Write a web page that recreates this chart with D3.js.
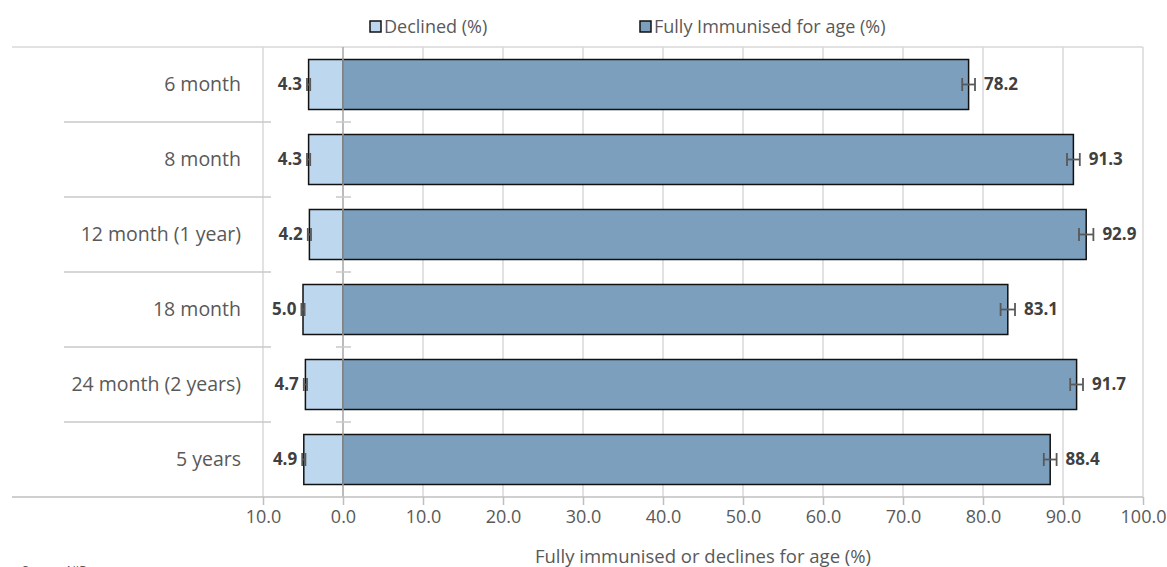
<html>
<head>
<meta charset="utf-8">
<title>Immunisation</title>
<script src="https://cdn.jsdelivr.net/npm/d3@7"></script>
<style>
  html, body { margin: 0; padding: 0; background: #fff; }
  svg { display: block; font-family: "Open Sans", "Noto Sans", sans-serif; }
</style>
</head>
<body>
<svg width="1167" height="567" id="mainsvg"></svg>
<script>
// data
const categories = ['6 month', '8 month', '12 month (1 year)', '18 month', '24 month (2 years)', '5 years'];
const declined = [4.3, 4.3, 4.2, 5.0, 4.7, 4.9];
const declinedErr = [0.2, 0.2, 0.2, 0.2, 0.2, 0.2];
const immunised = [78.2, 91.3, 92.9, 83.1, 91.7, 88.4];
const immunisedErr = [0.8, 0.8, 0.9, 0.9, 0.8, 0.8];
const xTicks = [-10, 0, 10, 20, 30, 40, 50, 60, 70, 80, 90, 100];

const svg = d3.select('svg');
const textCol = '#595959';
const gridCol = '#d9d9d9';

const x = d3.scaleLinear().domain([-10, 100]).range([263, 1143]);
const y = d3.scaleBand().domain(categories).range([47, 497]).paddingInner(1/3).paddingOuter(1/6);
const step = y.step();

// vertical gridlines
svg.append('g').selectAll('line').data(xTicks.filter(d => d !== 0)).join('line')
  .attr('x1', d => x(d)).attr('x2', d => x(d)).attr('y1', 47).attr('y2', 497)
  .attr('stroke', gridCol).attr('stroke-width', 1.5);

// top border line
svg.append('line').attr('x1', 12).attr('x2', x(100)).attr('y1', 47).attr('y2', 47)
  .attr('stroke', gridCol).attr('stroke-width', 1.5);

// category separators on the left
const bounds = d3.range(1, categories.length).map(i => y(categories[i]) - step * (1/3) / 2);
svg.append('g').selectAll('line').data(bounds).join('line')
  .attr('x1', 64).attr('x2', 271).attr('y1', d => d).attr('y2', d => d)
  .attr('stroke', '#c8c8c8').attr('stroke-width', 1.5);

// bars
const rows = categories.map((c, i) => ({c, dec: declined[i], decErr: declinedErr[i], imm: immunised[i], immErr: immunisedErr[i]}));
const bars = svg.append('g');
bars.selectAll('rect.dec').data(rows).join('rect').attr('class', 'dec')
  .attr('x', d => x(-d.dec)).attr('width', d => x(0) - x(-d.dec))
  .attr('y', d => y(d.c)).attr('height', y.bandwidth())
  .attr('fill', '#bdd7ee').attr('stroke', '#111').attr('stroke-width', 1.5);
bars.selectAll('rect.imm').data(rows).join('rect').attr('class', 'imm')
  .attr('x', x(0)).attr('width', d => x(d.imm) - x(0))
  .attr('y', d => y(d.c)).attr('height', y.bandwidth())
  .attr('fill', '#7c9fbe').attr('stroke', '#111').attr('stroke-width', 1.5);

// zero axis line with crossing ticks
svg.append('line').attr('x1', x(0)).attr('x2', x(0)).attr('y1', 47).attr('y2', 497)
  .attr('stroke', '#a6a6a6').attr('stroke-width', 1.5);
svg.append('g').selectAll('line').data(bounds).join('line')
  .attr('x1', x(0) - 7).attr('x2', x(0) + 8).attr('y1', d => d).attr('y2', d => d)
  .attr('stroke', '#c8c8c8').attr('stroke-width', 1.5);

// error bars
function errBars(lo, hi) {
  const g = svg.append('g').attr('stroke', '#595959').attr('stroke-width', 1.8);
  const cy = d => y(d.c) + y.bandwidth() / 2;
  g.append('g').selectAll('line').data(rows).join('line')
    .attr('x1', d => x(lo(d))).attr('x2', d => x(hi(d))).attr('y1', cy).attr('y2', cy);
  [lo, hi].forEach(f => {
    g.append('g').selectAll('line').data(rows).join('line')
      .attr('x1', d => x(f(d))).attr('x2', d => x(f(d)))
      .attr('y1', d => cy(d) - 6.5).attr('y2', d => cy(d) + 6.5);
  });
}
errBars(d => -d.dec - d.decErr, d => -d.dec + d.decErr);
errBars(d => d.imm - d.immErr, d => d.imm + d.immErr);

// value labels
const labels = svg.append('g').attr('font-size', 17).attr('font-weight', 700).attr('fill', '#404040');
labels.selectAll('text.dec').data(rows).join('text')
  .attr('x', d => x(-d.dec - d.decErr) - 5).attr('y', d => y(d.c) + y.bandwidth() / 2)
  .attr('dy', '0.35em').attr('text-anchor', 'end').text(d => d.dec.toFixed(1));
labels.selectAll('text.imm').data(rows).join('text')
  .attr('x', d => x(d.imm + d.immErr) + 9).attr('y', d => y(d.c) + y.bandwidth() / 2)
  .attr('dy', '0.35em').text(d => d.imm.toFixed(1));

// category labels
svg.append('g').selectAll('text').data(categories).join('text')
  .attr('x', 241).attr('y', d => y(d) + y.bandwidth() / 2).attr('dy', '0.35em')
  .attr('text-anchor', 'end').attr('font-size', 19.5).attr('fill', textCol).text(d => d);

// bottom axis
const xAxis = svg.append('g').attr('transform', 'translate(0,497)')
  .call(d3.axisBottom(x).tickValues(xTicks).tickSize(8).tickPadding(5).tickFormat(d => Math.abs(d).toFixed(1)));
xAxis.select('.domain').remove();
xAxis.selectAll('.tick line').attr('stroke', '#bfbfbf').attr('stroke-width', 1.5);
xAxis.selectAll('.tick text').attr('font-size', 18).attr('fill', textCol).attr('font-family', '"Open Sans", sans-serif');
svg.append('line').attr('x1', 12).attr('x2', x(100)).attr('y1', 497).attr('y2', 497)
  .attr('stroke', '#bfbfbf').attr('stroke-width', 1.5);

svg.append('text').attr('x', (x(-10) + x(100)) / 2).attr('y', 563).attr('text-anchor', 'middle')
  .attr('font-size', 18.5).attr('fill', textCol).text('Fully immunised or declines for age (%)');

// legend
const legend = [
  {label: 'Declined (%)', fill: '#bdd7ee', x: 370},
  {label: 'Fully Immunised for age (%)', fill: '#7c9fbe', x: 640}
];
const lg = svg.append('g').selectAll('g').data(legend).join('g');
lg.append('rect').attr('x', d => d.x).attr('y', 21).attr('width', 11).attr('height', 11)
  .attr('fill', d => d.fill).attr('stroke', '#111').attr('stroke-width', 1.5);
lg.append('text').attr('x', d => d.x + 14).attr('y', 27).attr('dy', '0.35em')
  .attr('font-size', 18).attr('fill', textCol).text(d => d.label);

// source note, cut off at the bottom edge
svg.append('text').attr('x', 22).attr('y', 575).attr('font-size', 12).attr('fill', textCol).text('Source: NIR');
</script>
</body>
</html>
